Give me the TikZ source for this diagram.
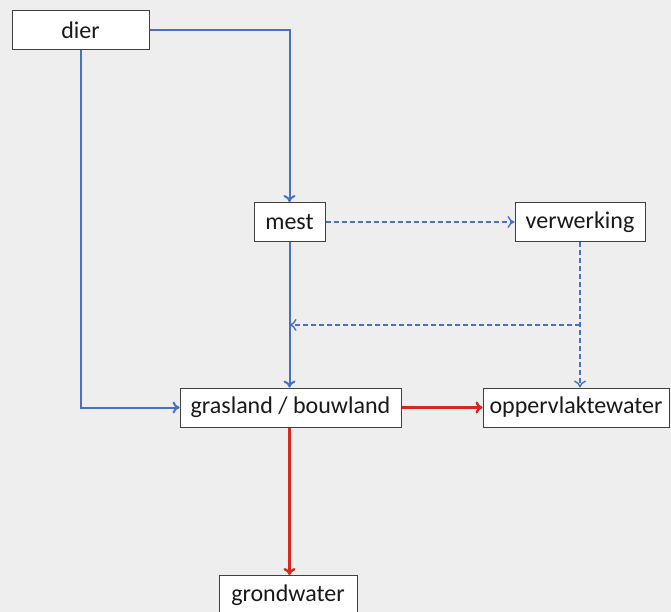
\documentclass[tikz,border=0pt]{standalone}
\usepackage{fontspec}
\setmainfont{Carlito}
\usetikzlibrary{calc,arrows.meta}

\definecolor{flowblue}{RGB}{72,112,196}
\definecolor{flowred}{RGB}{214,40,30}
\definecolor{paper}{RGB}{238,238,238}

\begin{document}
\begin{tikzpicture}
  [x=1pt,y=-1pt,
   every node/.style={rectangle, draw=black!75, fill=white, line width=1pt, inner sep=0pt,
     minimum height=39pt, font=\fontsize{24}{28}\selectfont, text=black!90},
   blueline/.style={draw=flowblue, line width=2pt},
   dashline/.style={draw=flowblue, line width=1.4pt, dash pattern=on 5pt off 3pt},
   redline/.style={draw=flowred, line width=2.4pt},
   >={To[length=7pt,width=12pt]}]

  \fill[paper] (0,0) rectangle (671,612);
  \useasboundingbox (0,0) rectangle (671,612);

  %%%%%%%%%%%%%%%%%%%%%% NODES %%%%%%%%%%%%%%%%%%%%%%

  \node[minimum width=137pt] (dier) at (80.5,30.5) 		{dier};
  \node[minimum width=71pt] (mest) at (289.5,222) 		{mest};
  \node[minimum width=130pt] (verw) at (580,222) 		{verwerking};
  \node[minimum width=221pt] (land) at (290.5,407.5) 	{grasland / bouwland};
  \node[minimum width=186pt] (opper) at (576,407.5) 	{oppervlaktewater};
  \node[minimum width=138pt] (grond) at (288,595) 		{grondwater};

  \coordinate (split) at ($(verw.south)!0.57!(verw.south |- opper.north)$);

  %%%%%%%%%%%%%%%%%%%%%% ARROWS %%%%%%%%%%%%%%%%%%%%%%

  \draw[blueline,->] (dier.east) -| (mest.north);
  \draw[blueline,->] (dier.south) |- (land.west);
  \draw[blueline,->] (mest.south) -- (mest.south |- land.north);

  \draw[dashline,->] (mest) -- (verw);
  \draw[dashline,->] (verw.south) -- (verw.south |- opper.north);
  \draw[dashline,->] (split) -- (split -| mest.south);

  \draw[redline,->] (land) -- (opper);
  \draw[redline,->] (land.south -| mest.south) -- (mest.south |- grond.north);

\end{tikzpicture}
\end{document}
